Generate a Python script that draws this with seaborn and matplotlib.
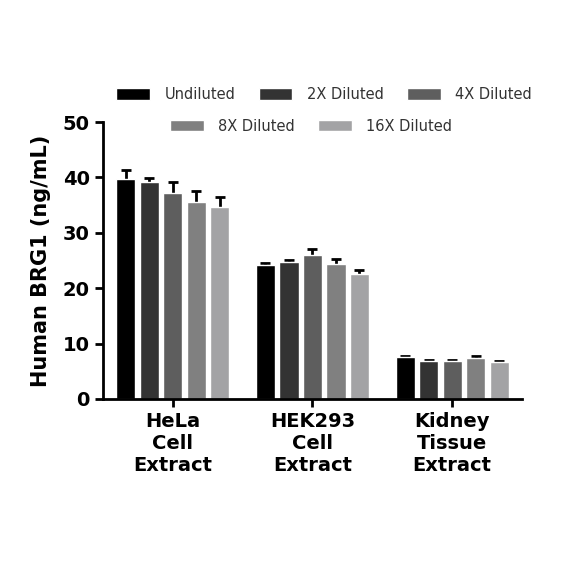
import numpy as np
import pandas as pd
import matplotlib
matplotlib.use("Agg")
import matplotlib.pyplot as plt
import seaborn as sns

samples = ["HeLa\nCell\nExtract", "HEK293\nCell\nExtract", "Kidney\nTissue\nExtract"]
dilutions = ["Undiluted", "2X Diluted", "4X Diluted", "8X Diluted", "16X Diluted"]
hela = [39.7, 39.2, 37.2, 35.5, 34.6]
hek293 = [24.2, 24.7, 26.0, 24.4, 22.6]
kidney = [7.5, 6.8, 6.8, 7.3, 6.6]
hela_err = [1.7, 0.7, 2.0, 2.1, 1.8]
hek293_err = [0.3, 0.4, 1.0, 0.9, 0.6]
kidney_err = [0.3, 0.2, 0.2, 0.4, 0.2]
colors = ["#000000", "#333333", "#5e5e5e", "#808080", "#a2a2a6"]

rows = []
for s, vals, errs in zip(samples, [hela, hek293, kidney], [hela_err, hek293_err, kidney_err]):
    for d, v, e in zip(dilutions, vals, errs):
        rows.append({"sample": s, "dilution": d, "conc": v, "sd": e})
df = pd.DataFrame(rows)

sns.set_style("ticks")
plt.rcParams['font.family'] = ['DejaVu Sans']
plt.rcParams.update({"text.color": "black", "axes.labelcolor": "black",
                     "xtick.color": "black", "ytick.color": "black",
                     "axes.edgecolor": "black"})

fig = plt.figure(figsize=(5.84, 5.84), dpi=100)
ax = fig.add_axes([0.176, 0.317, 0.718, 0.474])

sns.barplot(data=df, x="sample", y="conc", hue="dilution", order=samples,
            hue_order=dilutions, palette=colors, errorbar=None,
            width=0.84, gap=0.18, ax=ax, zorder=2, legend=True)

# error bars from bar positions, drawn behind the bars so only the top half shows
for bars, d in zip(ax.containers, dilutions):
    sub = df[df.dilution == d].set_index("sample").loc[samples]
    xs = [b.get_x() + b.get_width() / 2 for b in bars]
    ax.errorbar(xs, sub.conc.values, yerr=sub.sd.values, fmt="none",
                ecolor="black", elinewidth=2, capsize=3.5, capthick=2, zorder=1)

ax.set_xlim(-0.5, 2.5)
ax.set_ylim(0, 50)
ax.set_yticks([0, 10, 20, 30, 40, 50])
ax.set_xlabel("")
ax.set_ylabel("Human BRG1 (ng/mL)", fontsize=15, fontweight="bold", labelpad=8)
ax.tick_params(axis="both", width=2, length=6, labelsize=14, direction="out")
for lab in ax.get_xticklabels() + ax.get_yticklabels():
    lab.set_fontweight("bold")
for sp in ["left", "bottom"]:
    ax.spines[sp].set_linewidth(2)
sns.despine(ax=ax)

handles, labels = ax.get_legend_handles_labels()
ax.get_legend().remove()
leg_kw = dict(loc="center", frameon=False, fontsize=10.5, handlelength=2.3,
              handleheight=0.8, columnspacing=1.6, handletextpad=1.0,
              labelcolor="#333333")
fig.legend(handles[:3], labels[:3], ncol=3, bbox_to_anchor=(0.555, 0.838), **leg_kw)
fig.legend(handles[3:], labels[3:], ncol=2, bbox_to_anchor=(0.533, 0.784), **leg_kw)

fig.savefig("out.png", dpi=100)
